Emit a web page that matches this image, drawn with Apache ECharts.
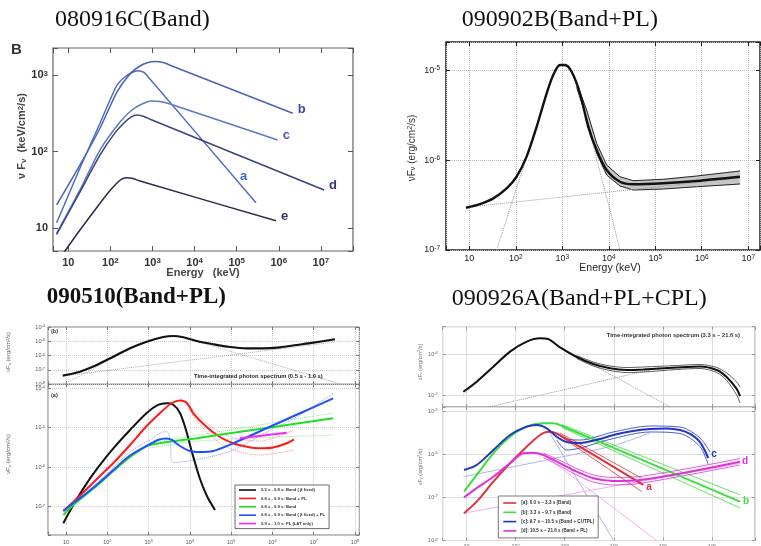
<!DOCTYPE html>
<html><head><meta charset="utf-8">
<script src="https://cdn.jsdelivr.net/npm/echarts@6/dist/echarts.min.js"></script>
<style>html,body{margin:0;padding:0;background:#fff}#c{width:761px;height:546px}</style>
</head><body><div id="c"></div>
<script>
// ================= DATA =================
const titles = ['080916C(Band)', '090902B(Band+PL)', '090510(Band+PL)', '090926A(Band+PL+CPL)'];

// Panel 1: GRB 080916C, Band fits, vFv [keV/cm2/s] vs Energy [keV]
const p1a = [[5.3,11.7],[19,60.8],[57,236],[144,740],[222,942],[326,1079],[452,1138],[628,1079],[871,887],[2.87e5,21.4]];
const p1b = [[5.3,20.0],[19,66.7],[57,203],[144,600],[292,1031],[505,1311],[782,1456],[1146,1500],[1775,1456],[2901,1311],[2.14e6,316]];
const p1c = [[5.3,8.53],[19,31.4],[57,105],[169,243],[326,349],[564,418],[957,457],[1507,451],[2605,418],[9.4e5,141]];
const p1d = [[5.3,8.22],[19,29.6],[57,90],[128.5,175],[222,243],[308,282],[428,300],[628,287],[973,258],[1.19e7,31.4]];
const p1e = [[5.3,3.48],[8.35,5.0],[19,9.42],[43,17.2],[87.7,28.7],[136,37.6],[189,43.8],[248,45.5],[344,44.4],[505,41.1],[8.57e5,12.4]];
const p1Names = ['a', 'b', 'c', 'd', 'e'];

// Panel 2: GRB 090902B, Band+PL, vFv [erg/cm2/s]
const p2Total = [[8.49,2.95e-7],[17.0,3.24e-7],[32.8,3.75e-7],[63.7,4.85e-7],[104,6.52e-7],[171,1.09e-6],[281,2.34e-6],[462,5.51e-6],[640,8.80e-6],[893,1.14e-5],[1143,1.14e-5],[1592,9.57e-6],[2404,5.51e-6],[3622,2.34e-6],[5495,1.29e-6],[9016,7.74e-7],[1.74e4,5.74e-7],[3.37e4,5.37e-7],[1.49e5,5.51e-7],[7.76e5,5.85e-7],[6.62e6,6.52e-7]];
const p2BandE = [2042,3350,5495,9016,1.74e4,3.37e4,1.49e5,7.76e5,6.62e6];
const p2BandLow = [6.42e-6,2.90e-6,1.19e-6,6.81e-7,5.14e-7,4.64e-7,4.76e-7,5.05e-7,5.41e-7];
const p2BandHigh = [7.11e-6,3.60e-6,1.53e-6,8.80e-7,6.52e-7,5.89e-7,6.11e-7,6.64e-7,7.55e-7];
const p2BandComp = [[38.8,1.0e-7],[63.7,2.21e-7],[104,4.89e-7],[171,1.05e-6],[281,2.27e-6],[462,5.35e-6],[640,8.58e-6],[893,1.11e-5],[1143,1.11e-5],[1592,9.38e-6],[2404,5.28e-6],[3622,2.33e-6],[5495,1.03e-6],[1.06e4,2.78e-7],[1.74e4,1.0e-7]];
const p2PL = [[8.49,2.98e-7],[6.62e6,6.31e-7]];
const p2MinorY = [2e-7,3e-7,4e-7,5e-7,6e-7,7e-7,8e-7,9e-7,2e-6,3e-6,4e-6,5e-6,6e-6,7e-6,8e-6,9e-6,2e-5];

// Panel 3: GRB 090510
const p3TopTotal = [[8.32,4.0e-8],[21.8,7.6e-8],[55.3,2.23e-7],[140,8.45e-7],[355,3.27e-6],[899,9.42e-6],[2270,2.0e-5],[3963,2.36e-5],[6918,1.91e-5],[1.46e4,1.05e-5],[3.69e4,6.21e-6],[9.35e4,4.02e-6],[2.37e5,3.27e-6],[5.98e5,3.27e-6],[1.52e6,3.83e-6],[3.85e6,5.55e-6],[9.73e6,8.02e-6],[3.26e7,1.39e-5]];
const p3TopBand = [[8.32,1.0e-8],[21.8,3.81e-8],[55.3,1.62e-7],[140,7.44e-7],[355,3.16e-6],[899,9.27e-6],[2270,2.0e-5],[3963,2.28e-5],[6918,1.85e-5],[1.46e4,1.0e-5],[5.18e7,9.0e-9]];
const p3TopPL = [[8.6,3.81e-8],[3.26e7,8.97e-6]];
const p3Black = [[8.6,3.76e-8],[15.0,1.09e-7],[31.7,3.86e-7],[66.5,1.13e-6],[140,2.97e-6],[355,8.65e-6],[899,2.33e-5],[1690,3.72e-5],[2742,4.10e-5],[3899,3.82e-5],[5754,2.33e-5],[8054,8.65e-6],[1.12e4,2.40e-6],[1.76e4,4.97e-7],[2.59e4,1.85e-7],[4.06e4,8.15e-8]];
const p3Red = [[8.6,7.69e-8],[15.0,1.30e-7],[31.7,2.77e-7],[66.5,5.92e-7],[140,1.26e-6],[355,3.61e-6],[899,1.09e-5],[2270,2.77e-5],[3690,4.17e-5],[5754,4.83e-5],[8511,4.17e-5],[1.21e4,2.29e-5],[2.55e4,1.03e-5],[5.36e4,5.74e-6],[1.12e5,3.98e-6],[2.37e5,3.27e-6],[4.98e5,2.97e-6],[1.04e6,3.12e-6],[2.21e6,3.98e-6],[3.32e6,5.02e-6]];
const p3Green = [[8.6,6.10e-8],[15.0,1.09e-7],[31.7,2.07e-7],[66.5,3.94e-7],[140,7.92e-7],[355,1.79e-6],[620,2.69e-6],[1081,3.61e-6],[1.76e4,5.52e-6],[7.24e5,9.71e-6],[2.96e7,1.71e-5]];
const p3Blue = [[8.6,7.69e-8],[15.0,1.23e-7],[31.7,2.20e-7],[66.5,4.17e-7],[140,8.39e-7],[355,1.95e-6],[984,3.61e-6],[1690,4.83e-6],[2636,5.27e-6],[3690,4.83e-6],[5754,3.40e-6],[1.0e4,2.54e-6],[1.76e4,2.40e-6],[3.69e4,2.54e-6],[1.12e5,3.98e-6],[7.24e5,9.55e-6],[4.63e6,2.29e-5],[2.96e7,5.48e-5]];
const p3Magenta = [[1.63e5,5.33e-6],[2.21e6,7.38e-6]];
const p3BlueDash = [[8.6,8.65e-8],[66.5,4.69e-7],[355,2.40e-6],[1081,4.83e-6],[1888,7.26e-6],[2742,7.84e-6],[3296,4.83e-6],[3963,1.29e-6],[1.76e4,1.60e-6],[1.12e5,2.69e-6],[7.24e5,7.69e-6],[4.63e6,2.07e-5],[2.96e7,7.35e-5]];
const p3RedLow = [[8511,3.72e-5],[1.21e4,1.95e-5],[2.55e4,7.69e-6],[5.36e4,4.06e-6],[1.12e5,2.69e-6],[4.98e5,2.01e-6],[3.32e6,2.69e-6]];
const p3RedHigh = [[5754,5.58e-5],[1.21e4,2.77e-5],[2.55e4,1.30e-5],[5.36e4,7.69e-6],[1.12e5,5.42e-6],[4.98e5,4.55e-6],[3.32e6,8.65e-6]];
const p3GreenHigh = [[1081,4.06e-6],[2.96e7,2.33e-5]];
const p3GreenLow = [[1081,3.03e-6],[1.76e4,4.55e-6],[2.96e7,6.45e-6]];
const p3Legend = ['0.5 s - 0.8 s: Band ( \u03b2 fixed)', '0.8 s - 0.9 s: Band + PL', '0.8 s - 0.9 s: Band', '0.8 s - 0.9 s: Band ( \u03b2 fixed) + PL', '0.9 s - 1.0 s: PL (LAT only)'];

// Panel 4: GRB 090926A
const p4Top = [[8.6,1.22e-7],[16.1,2.15e-7],[35.2,4.99e-7],[76.9,1.16e-6],[168,2.03e-6],[314,2.45e-6],[457,2.36e-6],[802,1.47e-6],[1754,8.59e-7],[3819,5.80e-7],[8375,4.56e-7],[1.83e4,4.14e-7],[3.99e4,4.26e-7],[1.91e5,4.76e-7],[5.70e5,5.04e-7],[1.25e6,4.14e-7],[1.99e6,2.79e-7],[3.18e6,1.43e-7],[3.72e6,9.61e-8]];
const p4TopHigh = [[1754,9.35e-7],[3819,6.49e-7],[8375,5.19e-7],[1.83e4,4.76e-7],[3.99e4,4.90e-7],[1.91e5,5.33e-7],[5.70e5,5.64e-7],[1.25e6,4.76e-7],[1.99e6,3.50e-7],[3.18e6,2.11e-7],[3.72e6,1.59e-7]];
const p4TopLow = [[1754,7.91e-7],[3819,5.19e-7],[8375,4.03e-7],[1.83e4,3.60e-7],[3.99e4,3.70e-7],[1.91e5,4.26e-7],[5.70e5,4.51e-7],[1.25e6,3.60e-7],[1.99e6,2.30e-7],[3.18e6,1.02e-7],[3.72e6,6.49e-8]];
const p4TopBand = [[8.6,1.02e-7],[16.1,2.0e-7],[35.2,4.76e-7],[76.9,1.11e-6],[168,2.0e-6],[314,2.43e-6],[457,2.30e-6],[802,1.51e-6],[1.40e5,5.27e-8]];
const p4TopPL = [[30.1,5.27e-8],[8.73e4,4.74e-7]];
const p4a = [[8.9,4.28e-8],[16.1,7.94e-8],[35.2,2.31e-7],[76.9,6.15e-7],[168,1.49e-6],[314,2.78e-6],[463,3.32e-6],[687,3.05e-6],[3.99e4,1.94e-7]];
const p4aHigh = [[802,3.10e-6],[3.70e4,2.77e-7]];
const p4aLow = [[802,2.64e-6],[3.70e4,1.36e-7]];
const p4b = [[8.9,1.36e-7],[16.1,3.30e-7],[35.2,1.05e-6],[76.9,2.54e-6],[168,4.34e-6],[366,5.19e-6],[586,5.19e-6],[881,4.50e-6],[3.72e6,7.94e-8]];
const p4bHigh = [[881,4.87e-6],[3.72e6,1.14e-7]];
const p4bLow = [[881,4.15e-6],[3.72e6,5.69e-8]];
const p4c = [[8.9,4.31e-7],[16.1,5.62e-7],[35.2,1.25e-6],[76.9,2.78e-6],[168,4.34e-6],[269,4.74e-6],[430,3.98e-6],[687,2.54e-6],[1099,1.91e-6],[2051,1.82e-6],[5236,2.25e-6],[9772,2.78e-6],[2.46e4,3.44e-6],[5.46e4,3.83e-6],[1.19e5,3.94e-6],[2.23e5,3.63e-6],[3.56e5,2.94e-6],[5.69e5,1.91e-6],[8.41e5,8.17e-7]];
const p4cHigh = [[687,2.94e-6],[1099,2.25e-6],[2051,2.13e-6],[9772,3.27e-6],[5.46e4,4.50e-6],[2.23e5,4.27e-6],[5.69e5,2.37e-6],[9.10e5,1.12e-6]];
const p4cLow = [[687,2.13e-6],[1099,1.25e-6],[2051,1.39e-6],[9772,2.31e-6],[5.46e4,3.27e-6],[2.23e5,3.01e-6],[5.69e5,1.51e-6],[8.28e5,5.93e-7]];
const p4d = [[8.9,1.0e-7],[16.1,1.63e-7],[35.2,3.01e-7],[76.9,6.15e-7],[144,1.05e-6],[229,1.08e-6],[366,9.57e-7],[802,6.15e-7],[1754,3.94e-7],[3819,2.77e-7],[9772,2.40e-7],[3.42e4,2.53e-7],[3.72e6,6.70e-7]];
const p4dHigh = [[366,1.07e-6],[802,7.15e-7],[1754,4.67e-7],[3819,3.30e-7],[9772,2.89e-7],[3.42e4,3.05e-7],[3.72e6,7.94e-7]];
const p4dLow = [[366,8.39e-7],[802,5.33e-7],[1754,3.30e-7],[3819,2.27e-7],[9772,1.94e-7],[3.42e4,2.10e-7],[3.72e6,5.62e-7]];
const p4cPL = [[8.6,3.01e-7],[8375,1.49e-6],[5.46e4,3.10e-6]];
const p4cBand = [[457,3.63e-6],[9772,1.03e-8]];
const p4dPL = [[8.6,4.28e-8],[3.72e6,6.10e-7]];
const p4dBand = [[397,9.08e-7],[7.48e4,1.0e-8]];
const p4TopMinorY = [6e-8,7e-8,8e-8,9e-8,2e-7,3e-7,4e-7,5e-7,6e-7,7e-7,8e-7,9e-7,2e-6,3e-6,4e-6];
const p4BotMinorY = [2e-8,3e-8,4e-8,5e-8,6e-8,7e-8,8e-8,9e-8,2e-7,3e-7,4e-7,5e-7,6e-7,7e-7,8e-7,9e-7,2e-6,3e-6,4e-6,5e-6,6e-6,7e-6,8e-6,9e-6];
const p4Legend = ['[a]: 0.0 s \u2013 3.3 s (Band)', '[b]: 3.3 s \u2013 9.7 s (Band)', '[c]: 9.7 s \u2013 10.5 s (Band + CUTPL)', '[d]: 10.5 s \u2013 21.6 s (Band + PL)'];

// ================= CHART =================
const SANS = 'Liberation Sans';
function powLabel(v) {
  const e = Math.log10(v), r = Math.round(e);
  if (Math.abs(e - r) > 1e-4) return '';
  if (r === 1) return '10';
  if (r === 0) return '1';
  return '10{s|' + (r < 0 ? '-' + (-r) : String(r)) + '}';
}
function mkAxis(gi, min, max, pos, o) {
  const fs = o.fs || 9, col = o.color || '#333', fw = o.fw || 'normal';
  return {
    type: 'log', logBase: 10, gridIndex: gi, min: min, max: max, position: pos,
    axisLine: {show: false},
    axisTick: {show: o.tick !== false, inside: true, length: o.tickLen || 4, lineStyle: {color: o.tickColor || '#444', width: o.tickW || 1}},
    axisLabel: {show: !!o.label, formatter: powLabel, margin: o.margin || 4, color: col, fontSize: fs, fontFamily: SANS, fontWeight: fw,
      rich: {s: {fontSize: Math.max(3, fs * 0.72), verticalAlign: 'top', color: col, fontFamily: SANS, fontWeight: fw}}},
    splitLine: {show: !!o.split, lineStyle: {type: o.splitType || 'dotted', color: o.splitColor || '#bbb', width: o.splitW || 1}},
    minorTick: {show: false}, minorSplitLine: {show: false}
  };
}
const G = [
  {left: 53, top: 48, width: 300, height: 203, border: '#666', bw: 1.2},
  {left: 446, top: 42, width: 314, height: 208, border: '#222', bw: 1.5},
  {left: 48, top: 327, width: 311.3, height: 57.3, border: '#777', bw: 1},
  {left: 48, top: 384.3, width: 311.3, height: 150.7, border: '#777', bw: 1},
  {left: 442.7, top: 326.7, width: 312.3, height: 80.3, border: '#999', bw: 1},
  {left: 442.7, top: 407, width: 312.3, height: 133.5, border: '#999', bw: 1}
];
const XR = [[4.34, 5.78e7], [3.16, 1.79e7], [3.66, 1.27e8], [3.66, 1.27e8], [3.27, 7.52e6], [3.27, 7.52e6]];
const YR = [[5.0, 2254], [1e-7, 2.05e-5], [1e-8, 1e-4], [1.9e-8, 1.24e-4], [5.19e-8, 4.71e-6], [1e-8, 1.24e-5]];
const XO = [
  {label: true, fs: 11, fw: 'bold', color: '#333', margin: 6, tickLen: 5, tickColor: '#555'},
  {label: true, fs: 9, color: '#222', margin: 4, tickLen: 4, tickColor: '#222', split: true, splitColor: '#bbb'},
  {label: false, fs: 5.5, color: '#555', tickLen: 3, tickColor: '#777', split: true, splitColor: '#ccc'},
  {label: true, fs: 5.5, color: '#555', margin: 4, tickLen: 3, tickColor: '#777', split: true, splitColor: '#ccc'},
  {label: false, fs: 5.5, color: '#666', tickLen: 3, tickColor: '#999', split: true, splitColor: '#ddd', splitType: 'solid'},
  {label: true, fs: 5.5, color: '#666', margin: 3, tickLen: 3, tickColor: '#999', split: true, splitColor: '#ddd', splitType: 'solid'}
];
const YO = [
  {label: true, fs: 11, fw: 'bold', color: '#333', margin: 5, tickLen: 5, tickColor: '#555'},
  {label: true, fs: 9, color: '#222', margin: 6, tickLen: 4, tickColor: '#222', split: true, splitColor: '#bbb'},
  {label: true, fs: 5.5, color: '#555', margin: 3, tickLen: 3, tickColor: '#777', split: true, splitColor: '#ccc'},
  {label: true, fs: 5.5, color: '#555', margin: 3, tickLen: 3, tickColor: '#777', split: true, splitColor: '#ccc'},
  {label: true, fs: 5.5, color: '#666', margin: 5, tickLen: 3, tickColor: '#999', split: true, splitColor: '#ddd', splitType: 'solid'},
  {label: true, fs: 5.5, color: '#666', margin: 5, tickLen: 3, tickColor: '#999', split: true, splitColor: '#ddd', splitType: 'solid'}
];
const grids = [], xAxes = [], yAxes = [];
G.forEach((g, i) => {
  grids.push({left: g.left, top: g.top, width: g.width, height: g.height, show: true, borderColor: g.border, borderWidth: g.bw,
    backgroundColor: 'transparent', containLabel: false, outerBoundsMode: 'none'});
  xAxes.push(mkAxis(i, XR[i][0], XR[i][1], 'bottom', XO[i]));
  xAxes.push(mkAxis(i, XR[i][0], XR[i][1], 'top', Object.assign({}, XO[i], {label: false, split: false})));
  yAxes.push(mkAxis(i, YR[i][0], YR[i][1], 'left', YO[i]));
  yAxes.push(mkAxis(i, YR[i][0], YR[i][1], 'right', Object.assign({}, YO[i], {label: false, split: false})));
});

function ln(g, data, color, width, o) {
  return Object.assign({type: 'line', xAxisIndex: 2 * g, yAxisIndex: 2 * g, data: data, symbol: 'none', showSymbol: false,
    smooth: 0.3, silent: true, animation: false, z: 3,
    lineStyle: {color: color, width: width, type: 'solid'}, itemStyle: {color: color}}, o || {});
}
function dotted(g, data, color, width, o) {
  return ln(g, data, color, width, Object.assign({smooth: false, lineStyle: {color: color, width: width, type: 'dotted'}}, o || {}));
}
function minorLines(g, vals, color, type) {
  return {type: 'line', xAxisIndex: 2 * g, yAxisIndex: 2 * g, data: [], silent: true, z: 1, animation: false,
    markLine: {silent: true, symbol: 'none', animation: false, label: {show: false},
      lineStyle: {type: type || 'dotted', color: color, width: 0.8}, data: vals.map(v => ({yAxis: v}))}};
}

const series = [];
// ---- Panel 1 ----
const p1Cols = ['#4d6ec0', '#4a63b5', '#5a79c2', '#38437e', '#272b4a'];
const p1LabCols = ['#4466c0', '#3a4aa0', '#4a5ab5', '#303a80', '#3a3a55'];
const p1Off = [[-24, -26], [-3, -4], [-3, -5], [-3, -5], [-3, -4]];
[p1a, p1b, p1c, p1d, p1e].forEach((d, i) => {
  series.push(ln(0, d, p1Cols[i], 1.5, {smooth: 0.25,
    endLabel: {show: true, formatter: p1Names[i], offset: p1Off[i], color: p1LabCols[i], fontSize: 13, fontWeight: 'bold', fontFamily: SANS}}));
});
// ---- Panel 2 ----
series.push(minorLines(1, p2MinorY, '#c4c4c4'));
series.push({type: 'custom', coordinateSystem: 'cartesian2d', xAxisIndex: 2, yAxisIndex: 2, silent: true, z: 2, animation: false, clip: true,
  data: p2BandE.map((e, i) => [e, p2BandLow[i], p2BandHigh[i]]),
  encode: {x: 0, y: [1, 2]},
  renderItem: function (params, api) {
    if (params.dataIndex !== 0) return null;
    const up = p2BandE.map((e, i) => api.coord([e, p2BandHigh[i]]));
    const lo = p2BandE.map((e, i) => api.coord([e, p2BandLow[i]])).reverse();
    return {type: 'polygon', shape: {points: up.concat(lo)}, style: {fill: '#c6c6c6', stroke: '#c6c6c6', lineWidth: 0.5}};
  }});
series.push(ln(1, p2BandE.map((e, i) => [e, p2BandLow[i]]), '#111', 0.9, {smooth: false}));
series.push(ln(1, p2BandE.map((e, i) => [e, p2BandHigh[i]]), '#111', 0.9, {smooth: false}));
series.push(dotted(1, p2BandComp, '#999', 1, {smooth: 0.3}));
series.push(dotted(1, p2PL, '#999', 1));
series.push(ln(1, p2Total, '#111', 2.4, {z: 4}));
// ---- Panel 3 top ----
series.push(dotted(2, p3TopBand, '#aaa', 1, {smooth: 0.3}));
series.push(dotted(2, p3TopPL, '#aaa', 1));
series.push(ln(2, p3TopTotal, '#111', 2.2));
// ---- Panel 3 bottom ----
series.push(dotted(3, p3RedLow, '#ff9090', 1, {smooth: 0.3}));
series.push(dotted(3, p3RedHigh, '#ff9090', 1, {smooth: 0.3}));
series.push(dotted(3, p3GreenHigh, '#88ee88', 1));
series.push(dotted(3, p3GreenLow, '#88ee88', 1, {smooth: 0.3}));
series.push(dotted(3, p3BlueDash, '#8aa0ff', 1, {smooth: 0.3}));
const p3Cols = ['#111111', '#ff1a1a', '#22dd22', '#1f4fff', '#ff22ff'];
[p3Black, p3Red, p3Green, p3Blue, p3Magenta].forEach((d, i) => {
  series.push(ln(3, d, p3Cols[i], 2, {name: p3Legend[i], z: 4}));
});
// ---- Panel 4 top ----
series.push(minorLines(4, p4TopMinorY, '#dcdcdc', 'solid'));
series.push(dotted(4, p4TopBand, '#999', 1, {smooth: 0.3}));
series.push(dotted(4, p4TopPL, '#999', 1));
series.push(ln(4, p4TopHigh, '#333', 0.8));
series.push(ln(4, p4TopLow, '#333', 0.8));
series.push(ln(4, p4Top, '#111', 2));
// ---- Panel 4 bottom ----
series.push(minorLines(5, p4BotMinorY, '#e2e2e2', 'solid'));
series.push(ln(5, p4cPL, '#a8b4f0', 1, {smooth: 0.2}));
series.push(ln(5, p4cBand, '#a8b4f0', 1, {smooth: false}));
series.push(ln(5, p4dPL, '#f0b0f0', 1, {smooth: false}));
series.push(ln(5, p4dBand, '#f0b0f0', 1, {smooth: false}));
series.push(ln(5, p4aHigh, '#e0303a', 0.8, {smooth: false}));
series.push(ln(5, p4aLow, '#e0303a', 0.8, {smooth: false}));
series.push(ln(5, p4bHigh, '#40dd40', 0.8, {smooth: false}));
series.push(ln(5, p4bLow, '#40dd40', 0.8, {smooth: false}));
series.push(ln(5, p4cHigh, '#2035c8', 0.8));
series.push(ln(5, p4cLow, '#2035c8', 0.8));
series.push(ln(5, p4dHigh, '#e030d8', 0.8));
series.push(ln(5, p4dLow, '#e030d8', 0.8));
const p4Cols = ['#e0303a', '#40dd40', '#2035c8', '#e030d8'];
const p4Lab = ['a', 'b', 'c', 'd'];
const p4Off = [[0, 2], [0, 0], [0, -4], [-1, 0]];
[p4a, p4b, p4c, p4d].forEach((d, i) => {
  series.push(ln(5, d, p4Cols[i], 2, {name: p4Legend[i], z: 4,
    endLabel: {show: true, formatter: p4Lab[i], offset: p4Off[i], color: p4Cols[i], fontSize: 10, fontWeight: 'bold', fontFamily: SANS, distance: 3}}));
});

// ---- text ----
function txt(x, y, text, o) {
  return Object.assign({type: 'text', x: x, y: y, silent: true, z: 50,
    style: Object.assign({text: text, fill: '#111', fontFamily: SANS, fontSize: 10, align: 'left', verticalAlign: 'middle',
      textAlign: 'left', textVerticalAlign: 'middle'}, o.style || {})}, o.el || {});
}
function vname(x, y, text, fs, col, bold) {
  return txt(x, y, text, {el: {rotation: Math.PI / 2}, style: {fontSize: fs, fill: col, fontWeight: bold ? 'bold' : 'normal', align: 'center', textAlign: 'center',
    rich: {sub: {fontSize: fs * 0.72, verticalAlign: 'bottom', fill: col, fontFamily: SANS, fontWeight: bold ? 'bold' : 'normal'},
           sup: {fontSize: fs * 0.72, verticalAlign: 'top', fill: col, fontFamily: SANS, fontWeight: bold ? 'bold' : 'normal'}}}});
}
const serif = {fontFamily: 'Liberation Serif', fontSize: 24, fill: '#111'};
const graphic = [
  txt(55, 20, titles[0], {style: serif}),
  txt(461.7, 20, titles[1], {style: serif}),
  txt(46.7, 297, titles[2], {style: Object.assign({}, serif, {fontWeight: 'bold', fontSize: 23})}),
  txt(451.7, 298.5, titles[3], {style: serif}),
  txt(11, 50, 'B', {style: {fontSize: 15, fontWeight: 'bold', fill: '#333'}}),
  vname(22, 136, '\u03bd F{sub|\u03bd}  (keV/cm{sup|2}/s)', 11, '#444', true),
  txt(203, 273, 'Energy   (keV)', {style: {fontSize: 11, fontWeight: 'bold', fill: '#444', align: 'center', textAlign: 'center'}}),
  vname(412, 148, '\u03bdF{sub|\u03bd} (erg/cm{sup|2}/s)', 10, '#333', false),
  txt(610, 268, 'Energy (keV)', {style: {fontSize: 10.5, fill: '#222', align: 'center', textAlign: 'center'}}),
  txt(51, 331.5, '(b)', {style: {fontSize: 5.5, fontWeight: 'bold', fill: '#333'}}),
  txt(51, 395, '(a)', {style: {fontSize: 5.5, fontWeight: 'bold', fill: '#333'}}),
  txt(194, 376.7, 'Time-integrated photon spectrum (0.5 s - 1.0 s)', {style: {fontSize: 5.8, fontWeight: 'bold', fill: '#222'}}),
  vname(8.5, 352, '\u03bdF{sub|\u03bd} (erg/cm{sup|2}/s)', 6, '#666', false),
  vname(8.5, 454, '\u03bdF{sub|\u03bd} (erg/cm{sup|2}/s)', 6, '#666', false),
  txt(740, 335, 'Time-integrated photon spectrum (3.3 s \u2013 21.6 s)', {style: {fontSize: 5.8, fontWeight: 'bold', fill: '#333', align: 'right', textAlign: 'right'}}),
  vname(420, 362, '\u03bdF{sub|\u03bd} (erg/cm{sup|2}/s)', 5.5, '#777', false),
  vname(420, 467, '\u03bdF{sub|\u03bd} (erg/cm{sup|2}/s)', 5.5, '#777', false)
];

const legends = [
  {id: 'legP3', type: 'plain', data: p3Legend, left: 235, top: 485, orient: 'vertical', icon: 'rect', itemWidth: 17, itemHeight: 1.6,
    itemGap: 2.4, itemTextGap: 5, padding: [2, 4, 2, 4], borderColor: '#444', borderWidth: 0.8, backgroundColor: '#fff', selectedMode: false, z: 20,
    textStyle: {fontSize: 4.2, lineHeight: 6, fontWeight: 'bold', color: '#333', fontFamily: SANS}},
  {id: 'legP4', type: 'plain', data: p4Legend, left: 498.3, top: 496, orient: 'vertical', icon: 'rect', itemWidth: 13, itemHeight: 1.6,
    itemGap: 3.3, itemTextGap: 3, padding: [4, 4, 4, 5], borderColor: '#555', borderWidth: 0.8, backgroundColor: '#fff', selectedMode: false, z: 20,
    textStyle: {fontSize: 4.6, lineHeight: 6, fontWeight: 'bold', color: '#333', fontFamily: SANS}}
];

const chart = echarts.init(document.getElementById('c'), null, {renderer: 'canvas', width: 761, height: 546});
chart.setOption({
  backgroundColor: '#fff', animation: false,
  grid: grids, xAxis: xAxes, yAxis: yAxes,
  legend: legends, tooltip: {show: false},
  series: series, graphic: graphic
});
</script></body></html>
